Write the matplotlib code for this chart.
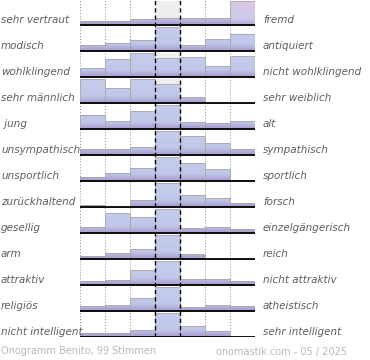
import numpy as np
import matplotlib
matplotlib.use("Agg")
import matplotlib.pyplot as plt
from matplotlib.colors import to_rgb

left_labels = ["sehr vertraut", "modisch", "wohlklingend", "sehr männlich", " jung",
               "unsympathisch", "unsportlich", "zurückhaltend", "gesellig", "arm",
               "attraktiv", "religiös", "nicht intelligent"]
right_labels = ["fremd", "antiquiert", "nicht wohlklingend", "sehr weiblich", "alt",
                "sympathisch", "sportlich", "forsch", "einzelgängerisch", "reich",
                "nicht attraktiv", "atheistisch", "sehr intelligent"]

# share of votes per scale step, in % of the row maximum
values = [
    [17, 17, 25, 29, 31, 31, 100],
    [25, 33, 46, 100, 25, 48, 70],
    [37, 75, 100, 79, 83, 46, 87],
    [100, 62, 100, 79, 25, 0, 0],
    [58, 33, 75, 100, 29, 27, 33],
    [27, 23, 33, 100, 79, 48, 23],
    [18, 32, 53, 100, 73, 52, 4],
    [8, 0, 29, 100, 50, 37, 17],
    [25, 83, 67, 100, 19, 23, 15],
    [12, 25, 42, 100, 21, 0, 0],
    [15, 19, 62, 100, 25, 23, 15],
    [19, 27, 56, 100, 15, 27, 21],
    [17, 17, 31, 100, 46, 25, 2],
]
highlight = {0: 6}   # row -> column drawn in pink
footer_left = "Onogramm Benito, 99 Stimmen"
footer_right = "onomastik.com - 05 / 2025"

W, H = 370, 360
fig = plt.figure(figsize=(W / 100, H / 100), dpi=100)
ROWPX = 26.0
CELL = 24.0 / ROWPX
ax = fig.add_axes([80 / W, 23 / H, 175 / W, 337 / H])
ax.axis("off")

ncol = 7
nrow = len(values)


def make_grad(top, mid, bottom, n=48):
    top, mid, bottom = map(np.array, map(to_rgb, (top, mid, bottom)))
    t = np.linspace(0, 1, n)  # 0 top -> 1 bottom
    img = np.zeros((n, 2, 3))
    for k, tt in enumerate(t):
        if tt < 0.72:
            c = top + (mid - top) * (tt / 0.72)
        else:
            c = mid + (bottom - mid) * ((tt - 0.72) / 0.28)
        img[k, :, :] = c
    return img


grad_blue = make_grad("#c6cdec", "#bfc6e8", "#a79acf")
grad_pink = make_grad("#dcc6e6", "#cccbea", "#b5a8d8")

for i, row in enumerate(values):
    base = i + 1
    top = base - CELL
    # light grey background of the middle column
    ax.add_patch(plt.Rectangle((3, top), 1, CELL, facecolor="#eeeeee",
                               edgecolor="none", zorder=0.5))
    hs = np.array(row) / 100.0 * CELL
    bars = ax.bar(np.arange(ncol) + 0.5, hs, bottom=base - hs, width=1.0,
                  facecolor="none", edgecolor="#a8a8a8", linewidth=0.6, zorder=3)
    for j, b in enumerate(bars):
        if hs[j] <= 0:
            continue
        g = grad_pink if highlight.get(i) == j else grad_blue
        im = ax.imshow(g, extent=(j, j + 1, base, top), aspect="auto",
                       origin="upper", zorder=2, interpolation="bilinear")
        im.set_clip_path(b)
    # baseline
    ax.plot([0, ncol], [base, base], color="black", lw=1.3, zorder=4,
            solid_capstyle="butt")

# vertical grid lines
for xv in [0, 1, 2, 5, 6, 7]:
    ax.plot([xv, xv], [13, 13 - 337 / ROWPX], color="#8a8a8a", lw=0.7,
            ls=(0, (1, 2)), zorder=1)
for xv in [3, 4]:
    ax.plot([xv, xv], [13, 13 - 337 / ROWPX], color="black", lw=1.0,
            ls=(0, (3, 2.2)), zorder=5)

ax.set_xlim(0, ncol)
ax.set_ylim(13, 13 - 337 / ROWPX)

for i in range(nrow):
    ypx = 25 + ROWPX * i - 1.8
    fig.text(1 / W, 1 - ypx / H, left_labels[i], ha="left", va="baseline",
             fontsize=7.5, style="italic", color="#5e5e5e")
    fig.text(263 / W, 1 - ypx / H, right_labels[i], ha="left", va="baseline",
             fontsize=7.5, style="italic", color="#5e5e5e")

fig.text(1 / W, 1 - 351.5 / H, footer_left, ha="left", va="center",
         fontsize=7.0, color="#b8b8b8")
fig.text(347 / W, 1 - 351.5 / H, footer_right, ha="right", va="center",
         fontsize=7.0, color="#b8b8b8")

fig.savefig("out.png", dpi=100)
